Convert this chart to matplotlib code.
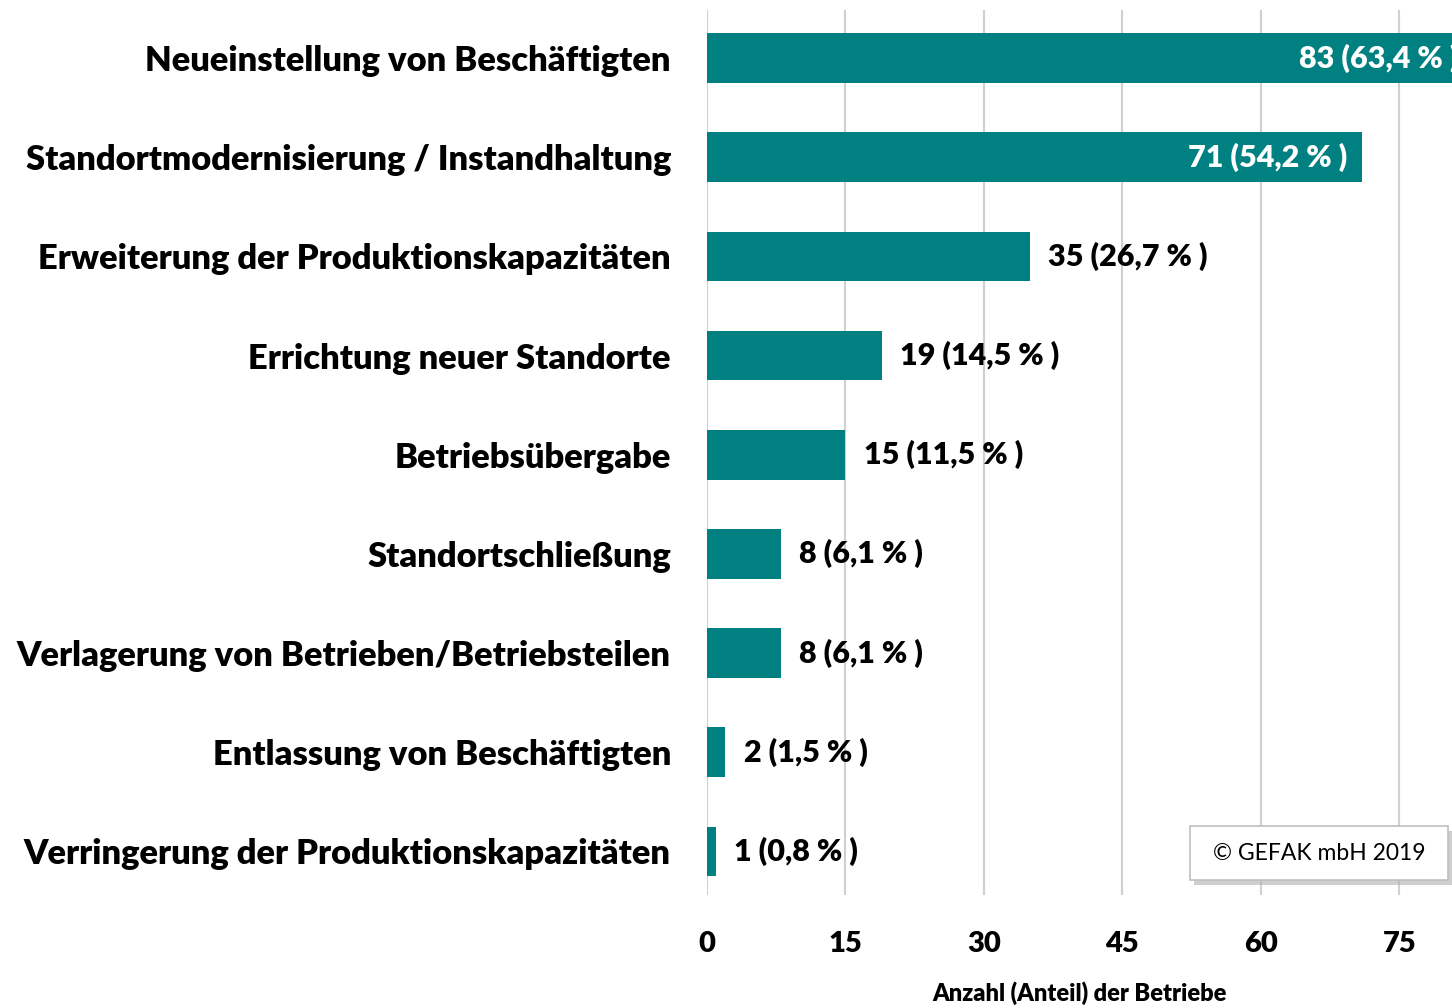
import numpy as np
import matplotlib.pyplot as plt
from matplotlib.patches import FancyBboxPatch

# Data
categories = [
    "Neueinstellung von Beschäftigten",
    "Standortmodernisierung / Instandhaltung",
    "Erweiterung der Produktionskapazitäten",
    "Errichtung neuer Standorte",
    "Betriebsübergabe",
    "Standortschließung",
    "Verlagerung von Betrieben/Betriebsteilen",
    "Entlassung von Beschäftigten",
    "Verringerung der Produktionskapazitäten",
]
counts = [83, 71, 35, 19, 15, 8, 8, 2, 1]
shares = ["63,4", "54,2", "26,7", "14,5", "11,5", "6,1", "6,1", "1,5", "0,8"]
x_ticks = [0, 15, 30, 45, 60, 75]

TEAL = "#008080"
plt.rcParams['font.family'] = ['Lato', 'DejaVu Sans']
W = 'heavy'

fig = plt.figure(figsize=(14.52, 10.08), dpi=100)
ax = fig.add_axes([707 / 1452, 1 - 895 / 1008, 1 - 707 / 1452, 885 / 1008])

y = np.arange(len(categories))
ax.barh(y, counts, height=0.5, color=TEAL, zorder=3)

ax.set_xlim(0, 80.7)
ax.set_ylim(8.44, -0.485)
ax.set_xticks(x_ticks)
ax.set_xticklabels([str(t) for t in x_ticks], fontsize=21, fontweight=W)
ax.set_yticks(y)
ax.set_yticklabels(categories, fontsize=24.8, fontweight=W)
ax.tick_params(axis='y', length=0, pad=26)
ax.tick_params(axis='x', length=0, pad=26)
ax.grid(axis='x', color='#d0d0d0', linewidth=1.5, zorder=0)
for s in ax.spines.values():
    s.set_visible(False)

fig.text((707 + 1452) / 2 / 1452, 1 - 993 / 1008, "Anzahl (Anteil) der Betriebe",
         ha='center', va='center', fontsize=17, fontweight=W)

for yi, c, p in zip(y, counts, shares):
    label = f"{c} ({p} % )"
    if c > 60:
        ax.annotate(label, (c, yi), xytext=(-11, 0), textcoords='offset points',
                    ha='right', va='center', color='white', fontsize=22,
                    fontweight=W, annotation_clip=False)
    else:
        ax.annotate(label, (c, yi), xytext=(13, 0), textcoords='offset points',
                    ha='left', va='center', color='black', fontsize=22,
                    fontweight=W)

# copyright box with shadow
bx, by, bw, bh = 1190 / 1452, 1 - 880 / 1008, 258 / 1452, 54 / 1008
shadow = FancyBboxPatch((bx + 0.003, by - 0.005), bw, bh, boxstyle="square,pad=0",
                        transform=fig.transFigure, facecolor='#b0b0b0',
                        edgecolor='none', zorder=4, alpha=0.6)
box = FancyBboxPatch((bx, by), bw, bh, boxstyle="square,pad=0",
                     transform=fig.transFigure, facecolor='white',
                     edgecolor='#bfbfbf', linewidth=1.2, zorder=5)
fig.patches.extend([shadow, box])
fig.text(bx + bw / 2, by + bh / 2, "© GEFAK mbH 2019", ha='center', va='center',
         fontsize=16.5, zorder=6)

fig.savefig("out.png", dpi=100)
